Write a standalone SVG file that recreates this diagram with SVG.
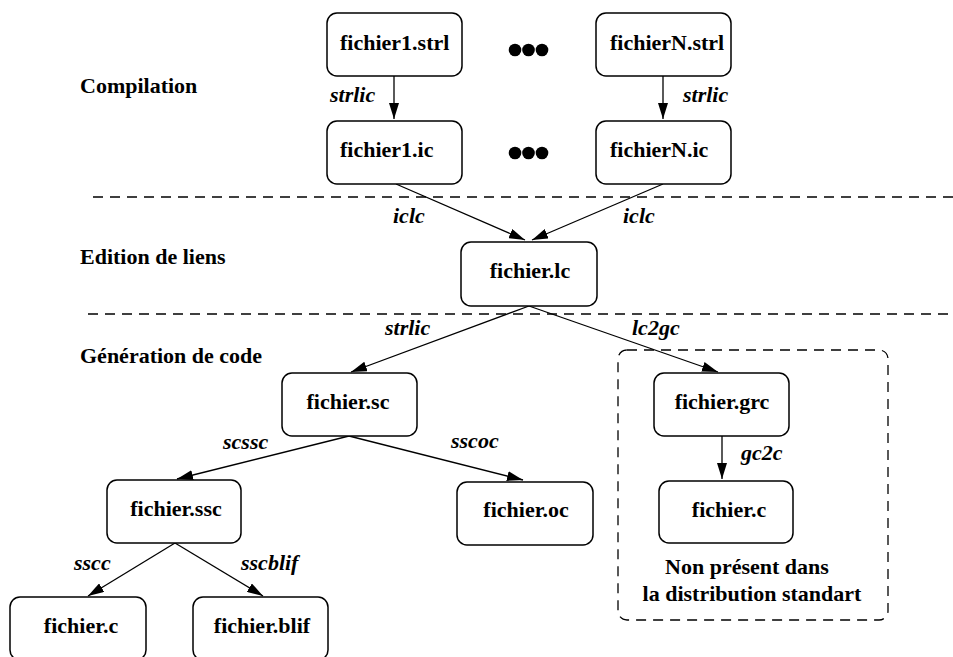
<svg xmlns="http://www.w3.org/2000/svg" width="953" height="657" viewBox="0 0 953 657">
<defs>
<style>
.box{fill:#fff;stroke:#000;stroke-width:1.5}
.t{font-family:"Liberation Serif","Times New Roman",serif;font-weight:bold;font-size:22px;fill:#000}
.c{text-anchor:middle}
.lab{font-family:"Liberation Serif","Times New Roman",serif;font-weight:bold;font-style:italic;font-size:22px;fill:#000}
.edge{stroke:#000;stroke-width:1.3;fill:none;marker-end:url(#ah)}
.dash{stroke:#000;stroke-width:1.3;fill:none;stroke-dasharray:10 7}
</style>
<marker id="ah" viewBox="0 0 16 10" refX="16" refY="5" markerWidth="16" markerHeight="10" markerUnits="userSpaceOnUse" orient="auto">
<path d="M0,0 L16,5 L0,10 Z" fill="#000"/>
</marker>
</defs>
<rect width="953" height="657" fill="#fff"/>

<g id="separators">
<line class="dash" x1="93" y1="197" x2="953" y2="197"/>
<line class="dash" x1="88" y1="314" x2="953" y2="314"/>
</g>

<g id="sections">
<text class="t" x="80" y="93">Compilation</text>
<text class="t" x="80" y="264">Edition de liens</text>
<text class="t" x="80" y="363">Génération de code</text>
</g>

<g id="group-nonstandard">
<rect class="dash" x="618" y="350" width="270" height="270" rx="9"/>
<text class="t c" x="747" y="574">Non présent dans</text>
<text class="t c" x="752" y="601">la distribution standart</text>
</g>

<g id="dots">
<circle cx="515" cy="50" r="6.3"/><circle cx="528.5" cy="50" r="6.3"/><circle cx="542" cy="50" r="6.3"/>
<circle cx="515" cy="153" r="6.3"/><circle cx="528.5" cy="153" r="6.3"/><circle cx="542" cy="153" r="6.3"/>
</g>

<g id="connectors">
<line class="edge" x1="394" y1="76" x2="394" y2="119"/>
<line class="edge" x1="663" y1="76" x2="663" y2="119"/>
<line class="edge" x1="396" y1="184" x2="525" y2="240"/>
<line class="edge" x1="663" y1="184" x2="532" y2="240"/>
<line class="edge" x1="529" y1="306" x2="351" y2="372"/>
<line class="edge" x1="529" y1="306" x2="718" y2="372"/>
<line class="edge" x1="349" y1="436" x2="177" y2="479"/>
<line class="edge" x1="349" y1="436" x2="523" y2="480"/>
<line class="edge" x1="175" y1="543" x2="88" y2="596"/>
<line class="edge" x1="175" y1="543" x2="263" y2="596"/>
<line class="edge" x1="722" y1="436" x2="722" y2="479"/>
<text class="lab" x="330" y="102">strlic</text>
<text class="lab" x="683" y="102">strlic</text>
<text class="lab" x="393" y="223">iclc</text>
<text class="lab" x="623" y="223">iclc</text>
<text class="lab" x="385" y="335">strlic</text>
<text class="lab" x="632" y="335">lc2gc</text>
<text class="lab" x="223" y="449">scssc</text>
<text class="lab" x="451" y="448">sscoc</text>
<text class="lab" x="741" y="460">gc2c</text>
<text class="lab" x="74" y="570">sscc</text>
<text class="lab" x="241" y="570">sscblif</text>
</g>

<g id="fichier1-strl"><rect class="box" x="327" y="13" width="135" height="63" rx="10"/><text class="t" x="340" y="50">fichier1.strl</text></g>
<g id="fichierN-strl"><rect class="box" x="596" y="13" width="135" height="63" rx="10"/><text class="t" x="610" y="50">fichierN.strl</text></g>
<g id="fichier1-ic"><rect class="box" x="327" y="121" width="135" height="63" rx="10"/><text class="t" x="340" y="157">fichier1.ic</text></g>
<g id="fichierN-ic"><rect class="box" x="596" y="121" width="135" height="63" rx="10"/><text class="t" x="610" y="157">fichierN.ic</text></g>
<g id="fichier-lc"><rect class="box" x="461" y="242" width="136" height="64" rx="10"/><text class="t c" x="530" y="278">fichier.lc</text></g>
<g id="fichier-sc"><rect class="box" x="282" y="373" width="135" height="63" rx="10"/><text class="t c" x="348" y="409">fichier.sc</text></g>
<g id="fichier-ssc"><rect class="box" x="107" y="480" width="134" height="63" rx="10"/><text class="t c" x="176" y="516">fichier.ssc</text></g>
<g id="fichier-oc"><rect class="box" x="457" y="482" width="136" height="63" rx="10"/><text class="t c" x="526" y="517">fichier.oc</text></g>
<g id="fichier-c-left"><rect class="box" x="10" y="597" width="136" height="63" rx="10"/><text class="t c" x="81" y="633">fichier.c</text></g>
<g id="fichier-blif"><rect class="box" x="193" y="597" width="135" height="63" rx="10"/><text class="t c" x="262" y="633">fichier.blif</text></g>
<g id="fichier-grc"><rect class="box" x="654" y="373" width="135" height="63" rx="10"/><text class="t c" x="722" y="409">fichier.grc</text></g>
<g id="fichier-c-right"><rect class="box" x="659" y="481" width="134" height="62" rx="10"/><text class="t c" x="729" y="517">fichier.c</text></g>
</svg>
